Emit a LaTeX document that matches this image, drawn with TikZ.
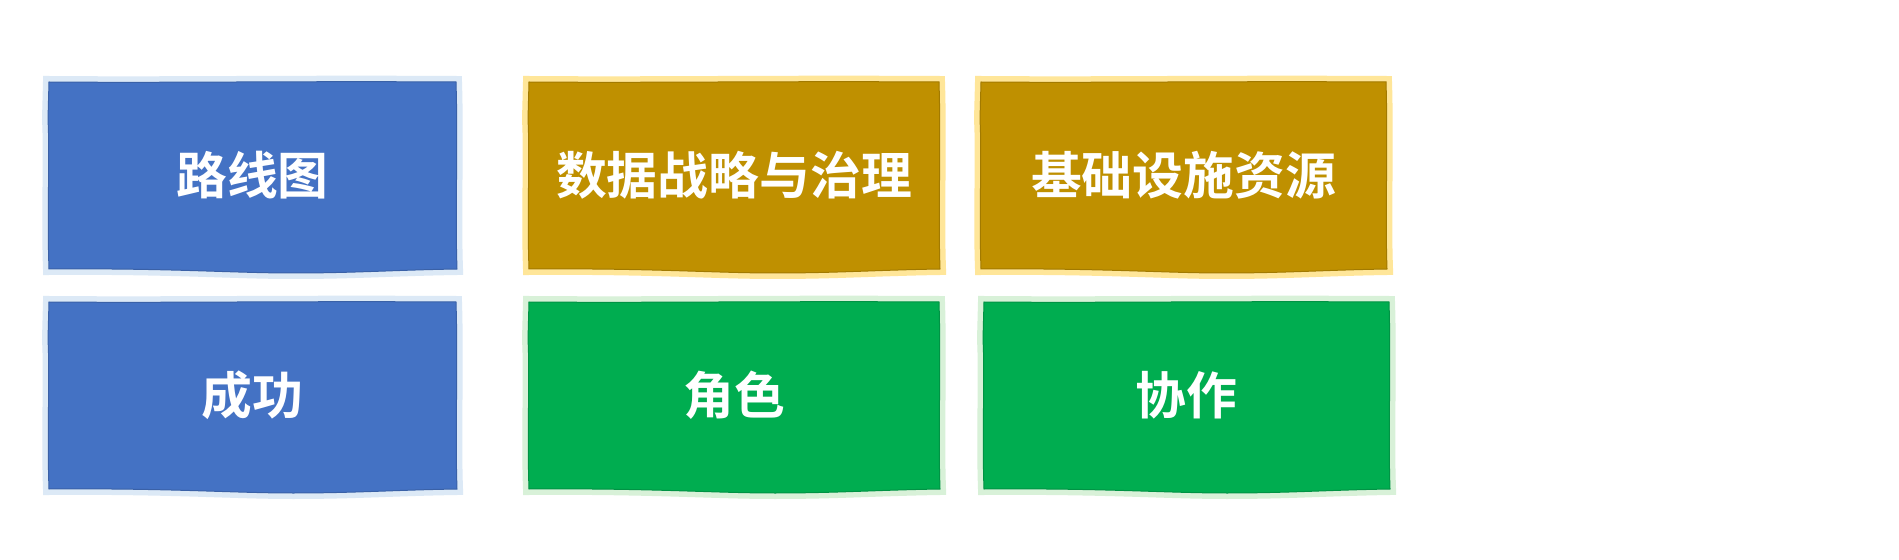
\documentclass[tikz,border=0pt]{standalone}
\usepackage{fontspec}
\newfontfamily\cjk{Noto Sans CJK SC}[BoldFont={Noto Sans CJK SC Bold}]
\definecolor{bluefill}{HTML}{4472C4}
\definecolor{bluehalo}{HTML}{DCE9F6}
\definecolor{goldfill}{HTML}{BF9000}
\definecolor{goldhalo}{HTML}{FFE699}
\definecolor{greenfill}{HTML}{00AD50}
\definecolor{greenhalo}{HTML}{D8F1D8}
\newcommand\wavypath[2]{(0,0) .. controls ({0.3*#1},1) and ({0.6*#1},-1) .. (#1,0) .. controls ({#1+2},{0.35*#2}) and ({#1-1},{0.7*#2}) .. ({#1+1},#2) .. controls ({0.85*#1},{#2+1}) and ({0.75*#1},{#2+4}) .. ({0.6*#1},{#2+4}) .. controls ({0.45*#1},{#2+4}) and ({0.3*#1},{#2-1}) .. (0,#2) .. controls (-2,{0.7*#2}) and (1,{0.4*#2}) .. (-1,{0.2*#2}) -- cycle}
\newcommand\wavyshape[6]{%
  \begin{scope}[shift={(#1,#2)}]
    \path[draw=#6,line width=12bp,line join=miter,fill=#6] \wavypath{#3}{#4};
    \path[draw=#5!85!black,line width=1bp,fill=#5] \wavypath{#3}{#4};
  \end{scope}}
\begin{document}
\begin{tikzpicture}[x=1bp,y=-1bp,
  lbl/.style={text=white,font=\cjk\bfseries\fontsize{51}{60}\selectfont,inner sep=0pt}]
\useasboundingbox[fill=white] (0,0) rectangle (1899,560);
\wavyshape{49}{82}{407}{187}{bluefill}{bluehalo}
\wavyshape{529}{82}{410}{187}{goldfill}{goldhalo}
\wavyshape{981}{82}{405}{187}{goldfill}{goldhalo}
\wavyshape{49}{302}{407}{187}{bluefill}{bluehalo}
\wavyshape{529}{302}{410}{187}{greenfill}{greenhalo}
\wavyshape{984}{302}{405}{187}{greenfill}{greenhalo}
\node[lbl] (b1) at (252.5,175.5) {路线图};
\node[lbl] (b2) at (734,175.5) {数据战略与治理};
\node[lbl] (b3) at (1183.5,175.5) {基础设施资源};
\node[lbl] (b4) at (252.5,395.5) {成功};
\node[lbl] (b5) at (734,395.5) {角色};
\node[lbl] (b6) at (1186.5,395.5) {协作};
\end{tikzpicture}
\end{document}
